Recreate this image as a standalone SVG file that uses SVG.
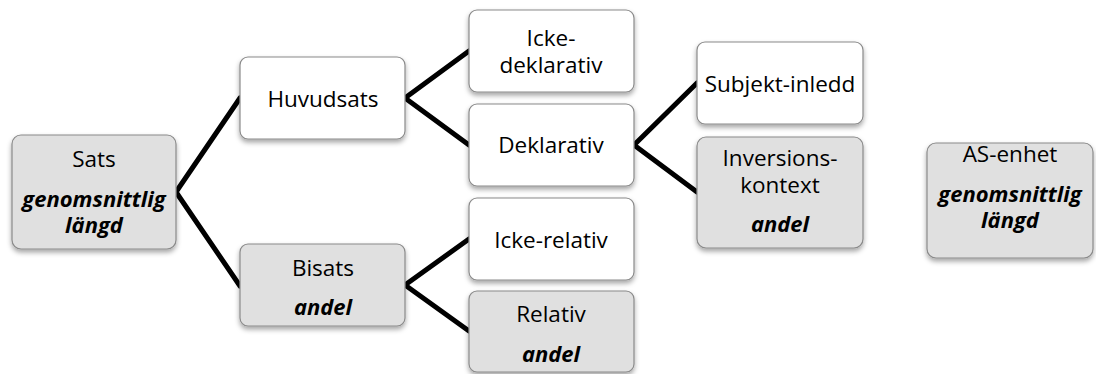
<svg xmlns="http://www.w3.org/2000/svg" width="1096" height="374" viewBox="0 0 1096 374">
<defs>
<filter id="sh" x="-10%" y="-10%" width="125%" height="135%">
<feDropShadow dx="0" dy="3" stdDeviation="2.5" flood-color="#000" flood-opacity="0.35"/>
</filter>
</defs>
<style>
.box{stroke:#8a8a8a;stroke-width:1.2;filter:url(#sh)}
.w{fill:#ffffff}
.g{fill:#e0e0e0}
text{font-family:"Open Sans","Liberation Sans",sans-serif;font-size:22.5px;fill:#000;text-anchor:middle}
.b{font-weight:bold;font-style:italic;font-size:22px}
.con line{stroke:#000;stroke-width:5;stroke-linecap:round}
</style>
<rect width="1096" height="374" fill="#fff"/>
<g class="con" id="connectors">
<line x1="176" y1="192" x2="240" y2="98"/>
<line x1="176" y1="192" x2="240" y2="286"/>
<line x1="405" y1="98" x2="469" y2="51"/>
<line x1="405" y1="98" x2="469" y2="145"/>
<line x1="405" y1="285" x2="469" y2="239"/>
<line x1="405" y1="285" x2="469" y2="331"/>
<line x1="634" y1="145" x2="697" y2="83"/>
<line x1="634" y1="145" x2="697" y2="192"/>
</g>
<g id="sats"><rect class="box g" x="12" y="135" width="164" height="114" rx="9"/>
<text x="94" y="167">Sats</text><text class="b" x="94" y="207">genomsnittlig</text><text class="b" x="94" y="233">längd</text></g>
<g id="huvudsats"><rect class="box w" x="240" y="57" width="165" height="82" rx="8"/>
<text x="323" y="107">Huvudsats</text></g>
<g id="bisats"><rect class="box g" x="240" y="244" width="165" height="82" rx="8"/>
<text x="323" y="276">Bisats</text><text class="b" x="323" y="315">andel</text></g>
<g id="ickedeklarativ"><rect class="box w" x="469" y="10" width="165" height="82" rx="8"/>
<text x="551" y="46">Icke-</text><text x="551" y="73">deklarativ</text></g>
<g id="deklarativ"><rect class="box w" x="469" y="104" width="165" height="82" rx="8"/>
<text x="551" y="153">Deklarativ</text></g>
<g id="ickerelativ"><rect class="box w" x="469" y="198" width="165" height="82" rx="8"/>
<text x="551" y="248">Icke-relativ</text></g>
<g id="relativ"><rect class="box g" x="469" y="291" width="165" height="81" rx="8"/>
<text x="551" y="322">Relativ</text><text class="b" x="551" y="362">andel</text></g>
<g id="subjektinledd"><rect class="box w" x="697" y="42" width="166" height="82" rx="8"/>
<text x="780" y="92">Subjekt-inledd</text></g>
<g id="inversionskontext"><rect class="box g" x="697" y="137" width="166" height="111" rx="9"/>
<text x="780" y="166">Inversions-</text><text x="780" y="193">kontext</text><text class="b" x="780" y="232">andel</text></g>
<g id="asenhet"><rect class="box g" x="927" y="143" width="166" height="115" rx="9"/>
<text x="1010" y="162">AS-enhet</text><text class="b" x="1010" y="202">genomsnittlig</text><text class="b" x="1010" y="228">längd</text></g>
</svg>
